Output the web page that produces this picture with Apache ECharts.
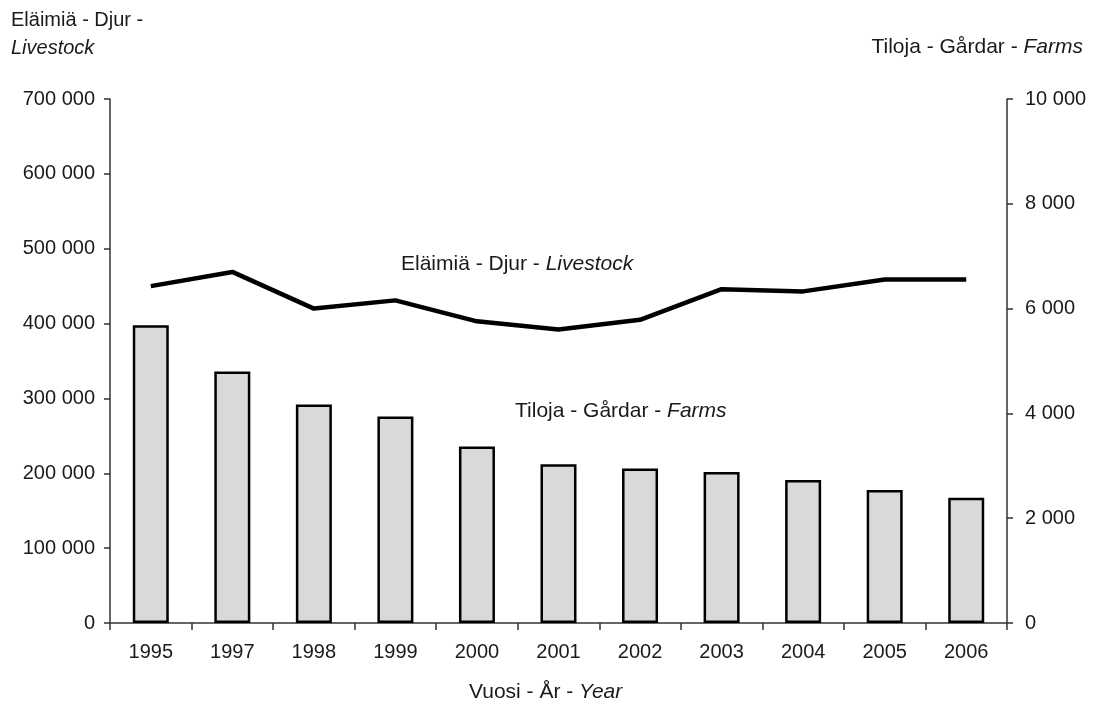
<!DOCTYPE html>
<html>
<head>
<meta charset="utf-8">
<script src="https://cdn.jsdelivr.net/npm/echarts@6/dist/echarts.min.js"></script>
<style>
  html, body { margin: 0; padding: 0; background: #fff; }
  #chart { width: 1093px; height: 707px; }
</style>
</head>
<body>
<div id="chart"></div>
<script>
// vuodet
const years = ['1995', '1997', '1998', '1999', '2000', '2001', '2002', '2003', '2004', '2005', '2006'];
// eläimiä (vasen akseli)
const livestock = [450000, 469000, 420000, 431000, 403000, 392000, 405000, 446000, 443000, 459000, 459000];
// tiloja (oikea akseli)
const farms = [5680, 4800, 4170, 3940, 3370, 3030, 2950, 2880, 2730, 2540, 2390];

const FONT = '"Liberation Sans", Arial, sans-serif';

function spaced(v) {
  return String(v).replace(/\B(?=(\d{3})+(?!\d))/g, ' ');
}

// teksti jossa lopussa kursiivi
function richLabel(plain, italic, size) {
  return {
    text: '{n|' + plain + '}{i|' + italic + '}',
    rich: {
      n: { fontSize: size, fontFamily: FONT, fill: '#1a1a1a' },
      i: { fontSize: size, fontFamily: FONT, fontStyle: 'italic', fill: '#1a1a1a' }
    }
  };
}

let myChart = echarts.init(document.getElementById('chart'));

myChart.setOption({
  animation: false,
  backgroundColor: '#fff',
  textStyle: { fontFamily: FONT, color: '#1a1a1a' },
  grid: { left: 110, right: 86, top: 99, bottom: 84 },
  xAxis: {
    type: 'category',
    data: years,
    boundaryGap: true,
    axisLine: { lineStyle: { color: '#333', width: 1.5 } },
    axisTick: { show: true, length: 7, lineStyle: { color: '#333', width: 1.5 } },
    axisLabel: { fontSize: 20, color: '#1a1a1a', margin: 19, fontFamily: FONT }
  },
  yAxis: [
    {
      type: 'value',
      min: 0, max: 700000, interval: 100000,
      splitLine: { show: false },
      axisLine: { show: true, lineStyle: { color: '#333', width: 1.5 } },
      axisTick: { show: true, length: 6, lineStyle: { color: '#333', width: 1.5 } },
      axisLabel: { fontSize: 20, color: '#1a1a1a', margin: 15, fontFamily: FONT, formatter: spaced }
    },
    {
      type: 'value',
      min: 0, max: 10000, interval: 2000,
      splitLine: { show: false },
      axisLine: { show: true, lineStyle: { color: '#333', width: 1.5 } },
      axisTick: { show: true, length: 6, lineStyle: { color: '#333', width: 1.5 } },
      axisLabel: { fontSize: 20, color: '#1a1a1a', margin: 18, fontFamily: FONT, formatter: spaced }
    }
  ],
  series: [
    {
      name: 'Tiloja',
      type: 'bar',
      yAxisIndex: 1,
      data: farms,
      barWidth: 36,
      itemStyle: { color: '#d9d9d9', borderColor: '#000', borderWidth: 2.5 }
    },
    {
      name: 'Eläimiä',
      type: 'line',
      yAxisIndex: 0,
      data: livestock,
      symbol: 'none',
      lineStyle: { color: '#000', width: 4.5 }
    }
  ],
  graphic: [
    {
      type: 'text', left: 11, top: 10,
      style: {
        text: '{n|Eläimiä - Djur -}\n{i|Livestock}',
        rich: {
          n: { fontSize: 20, fontFamily: FONT, fill: '#1a1a1a', lineHeight: 28 },
          i: { fontSize: 20, fontFamily: FONT, fontStyle: 'italic', fill: '#1a1a1a', lineHeight: 28 }
        }
      }
    },
    { type: 'text', right: 10, top: 37, style: richLabel('Tiloja - Gårdar - ', 'Farms', 21) },
    { type: 'text', left: 401, top: 254, style: richLabel('Eläimiä - Djur - ', 'Livestock', 21) },
    { type: 'text', left: 515, top: 401, style: richLabel('Tiloja - Gårdar - ', 'Farms', 21) },
    { type: 'text', left: 469, top: 682, style: richLabel('Vuosi - År - ', 'Year', 21) }
  ]
});
</script>
</body>
</html>
